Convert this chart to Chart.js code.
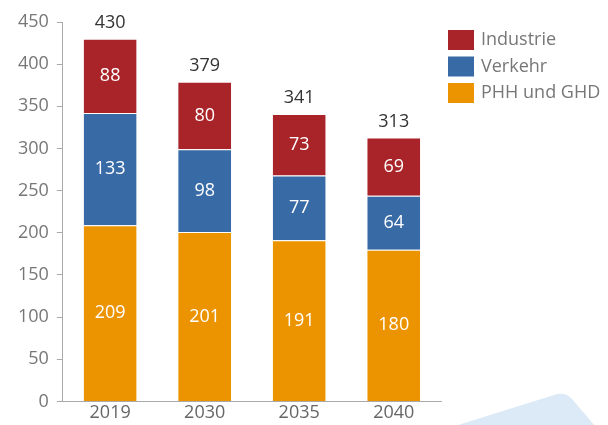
<!DOCTYPE html>
<html>
<head>
<meta charset="utf-8">
<script src="https://cdn.jsdelivr.net/npm/chart.js@4/dist/chart.umd.min.js"></script>
<style>
  html, body { margin: 0; padding: 0; background: #fff; }
  #wrap { width: 608px; height: 425px; position: relative; }
</style>
</head>
<body>
<div id="wrap"><canvas id="energyChart"></canvas></div>
<script>
var years = ["2019", "2030", "2035", "2040"];
var phh = [209, 201, 191, 180];
var verkehr = [133, 98, 77, 64];
var industrie = [88, 80, 73, 69];
var totals = [430, 379, 341, 313];

var fontFamily = "'Open Sans', 'Noto Sans', sans-serif";

// light blue corner shape behind everything
var cornerShape = {
  id: 'cornerShape',
  beforeDraw: function(chart) {
    var c = chart.ctx;
    c.save();
    c.fillStyle = '#dce9f6';
    c.beginPath();
    c.moveTo(442, 430);
    c.lineTo(554, 395);
    c.quadraticCurveTo(565, 391, 572, 399);
    c.lineTo(612, 446);
    c.lineTo(612, 430);
    c.closePath();
    c.fill();
    c.restore();
  }
};

// legend on the right, top item = top of the stack
var sideLegend = {
  id: 'sideLegend',
  afterDraw: function(chart) {
    var c = chart.ctx;
    var ds = chart.data.datasets.slice().reverse();
    var x = chart.chartArea.right + 7;
    c.save();
    c.font = '18px ' + fontFamily;
    c.textBaseline = 'middle';
    c.textAlign = 'left';
    ds.forEach(function(d, i) {
      var y = 30 + i * 26.5;
      c.fillStyle = d.backgroundColor;
      c.fillRect(x, y, 26, 20);
      c.fillStyle = '#777777';
      c.fillText(d.label, x + 33, y + 10);
    });
    c.restore();
  }
};

// segment values inside the bars, totals above
var barLabels = {
  id: 'barLabels',
  afterDatasetsDraw: function(chart) {
    var c = chart.ctx;
    c.save();
    c.font = '18px ' + fontFamily;
    c.textAlign = 'center';
    c.textBaseline = 'middle';
    chart.data.datasets.forEach(function(ds, i) {
      var meta = chart.getDatasetMeta(i);
      meta.data.forEach(function(bar, j) {
        var mid = (bar.y + bar.base) / 2;
        c.fillStyle = '#ffffff';
        c.fillText(ds.data[j], bar.x, mid);
      });
    });
    var top = chart.getDatasetMeta(chart.data.datasets.length - 1);
    top.data.forEach(function(bar, j) {
      c.fillStyle = '#333333';
      c.fillText(totals[j], bar.x, bar.y - 16);
    });
    c.restore();
  }
};

var segBorder = { top: 1, right: 0, bottom: 0, left: 0 };

new Chart(document.getElementById('energyChart').getContext('2d'), {
  type: 'bar',
  data: {
    labels: years,
    datasets: [
      { label: 'PHH und GHD', data: phh, backgroundColor: '#ec9400', borderColor: 'rgba(255,255,255,0.6)', borderWidth: segBorder, borderSkipped: false },
      { label: 'Verkehr', data: verkehr, backgroundColor: '#386aa6', borderColor: 'rgba(255,255,255,0.6)', borderWidth: segBorder, borderSkipped: false },
      { label: 'Industrie', data: industrie, backgroundColor: '#a92429', borderColor: 'rgba(255,255,255,0.6)', borderWidth: segBorder, borderSkipped: false }
    ]
  },
  options: {
    responsive: true,
    maintainAspectRatio: false,
    animation: false,
    layout: { padding: { top: 22, right: 167, left: 10, bottom: 0 } },
    datasets: { bar: { categoryPercentage: 1, barPercentage: 0.56 } },
    plugins: {
      legend: { display: false },
      tooltip: { enabled: false }
    },
    scales: {
      x: {
        stacked: true,
        grid: { display: false, drawTicks: false },
        border: { display: true, color: '#aaaaaa' },
        ticks: { color: '#666666', font: { family: fontFamily, size: 18 }, padding: 1 }
      },
      y: {
        stacked: true,
        min: 0,
        max: 450,
        grid: { drawOnChartArea: false, drawTicks: true, tickLength: 6, color: '#aaaaaa' },
        border: { display: true, color: '#aaaaaa' },
        ticks: { stepSize: 50, color: '#777777', font: { family: fontFamily, size: 18 }, padding: 8 }
      }
    }
  },
  plugins: [cornerShape, barLabels, sideLegend]
});
</script>
</body>
</html>
